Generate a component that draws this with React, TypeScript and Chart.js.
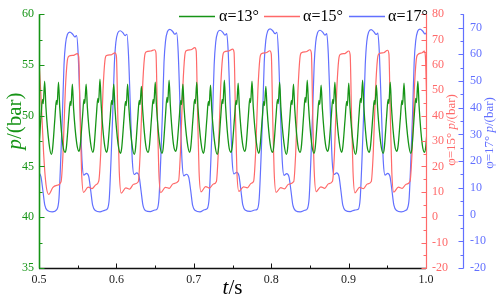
import React, { useEffect, useRef } from "react";
import { Chart, registerables } from "chart.js";

Chart.register(...registerables);

const GREEN = "rgb(22,148,22)";
const RED = "rgb(255,105,105)";
const BLUE = "rgb(98,112,255)";
const FONT = '"Liberation Serif", "Times New Roman", serif';

const legendLabels = ["α=13°", "α=15°", "α=17°"];
const xTitle: [string, boolean][] = [["t", true], ["/s", false]];
const greenTitle: [string, boolean][] = [["p", true], ["/(bar)", false]];
const redTitle: [string, boolean][] = [["φ=15° ", false], ["p", true], ["/(bar)", false]];
const blueTitle: [string, boolean][] = [["φ=17° ", false], ["p", true], ["/(bar)", false]];

// α=13° : time (s) and pressure (bar, left axis)
const greenT = [
  0.4981, 0.4996, 0.5026, 0.5045, 0.5055, 0.5073, 0.5089, 0.5129,
  0.5160, 0.5175, 0.5205, 0.5224, 0.5234, 0.5252, 0.5268, 0.5308,
  0.5339, 0.5354, 0.5384, 0.5403, 0.5413, 0.5431, 0.5447, 0.5487,
  0.5517, 0.5532, 0.5562, 0.5581, 0.5591, 0.5609, 0.5625, 0.5665,
  0.5696, 0.5711, 0.5741, 0.5760, 0.5770, 0.5788, 0.5804, 0.5844,
  0.5874, 0.5889, 0.5919, 0.5938, 0.5948, 0.5966, 0.5982, 0.6022,
  0.6053, 0.6068, 0.6098, 0.6117, 0.6127, 0.6145, 0.6161, 0.6201,
  0.6231, 0.6246, 0.6276, 0.6295, 0.6305, 0.6323, 0.6339, 0.6379,
  0.6410, 0.6425, 0.6455, 0.6474, 0.6484, 0.6502, 0.6518, 0.6558,
  0.6589, 0.6604, 0.6634, 0.6653, 0.6663, 0.6681, 0.6697, 0.6737,
  0.6767, 0.6782, 0.6812, 0.6831, 0.6841, 0.6859, 0.6875, 0.6915,
  0.6946, 0.6961, 0.6991, 0.7010, 0.7020, 0.7038, 0.7054, 0.7094,
  0.7124, 0.7139, 0.7169, 0.7188, 0.7198, 0.7216, 0.7232, 0.7272,
  0.7303, 0.7318, 0.7348, 0.7367, 0.7377, 0.7395, 0.7411, 0.7451,
  0.7481, 0.7496, 0.7526, 0.7545, 0.7555, 0.7573, 0.7589, 0.7629,
  0.7660, 0.7675, 0.7705, 0.7724, 0.7734, 0.7752, 0.7768, 0.7808,
  0.7839, 0.7854, 0.7884, 0.7903, 0.7913, 0.7931, 0.7947, 0.7987,
  0.8017, 0.8032, 0.8062, 0.8081, 0.8091, 0.8109, 0.8125, 0.8165,
  0.8196, 0.8211, 0.8241, 0.8260, 0.8270, 0.8288, 0.8304, 0.8344,
  0.8374, 0.8389, 0.8419, 0.8438, 0.8448, 0.8466, 0.8482, 0.8522,
  0.8553, 0.8568, 0.8598, 0.8617, 0.8627, 0.8645, 0.8661, 0.8701,
  0.8731, 0.8746, 0.8776, 0.8795, 0.8805, 0.8823, 0.8839, 0.8879,
  0.8910, 0.8925, 0.8955, 0.8974, 0.8984, 0.9002, 0.9018, 0.9058,
  0.9089, 0.9104, 0.9134, 0.9153, 0.9163, 0.9181, 0.9197, 0.9237,
  0.9267, 0.9282, 0.9312, 0.9331, 0.9341, 0.9359, 0.9375, 0.9415,
  0.9446, 0.9461, 0.9491, 0.9510, 0.9520, 0.9538, 0.9554, 0.9594,
  0.9624, 0.9639, 0.9669, 0.9688, 0.9698, 0.9716, 0.9732, 0.9772,
  0.9803, 0.9818, 0.9848, 0.9867, 0.9877, 0.9895, 0.9911, 0.9951,
  0.9981, 0.9996, 1.0026,
];
const greenP = [
  46.4, 46.9, 49.9, 51.6, 51.2, 53.4, 50.9, 47.3,
  46.2, 46.7, 49.7, 51.5, 51.1, 53.3, 50.8, 47.1,
  46.4, 46.9, 49.8, 51.4, 51.0, 53.1, 50.7, 47.3,
  46.5, 47.0, 49.9, 51.6, 51.2, 53.1, 50.8, 47.4,
  46.4, 46.9, 50.0, 51.7, 51.3, 53.6, 51.0, 47.3,
  46.4, 46.9, 49.8, 51.5, 51.1, 53.1, 50.7, 47.2,
  46.3, 46.8, 49.7, 51.4, 51.0, 53.1, 50.8, 47.2,
  46.2, 46.7, 49.8, 51.5, 51.1, 52.9, 50.6, 47.1,
  46.4, 46.9, 49.9, 51.6, 51.2, 53.3, 50.9, 47.3,
  46.3, 46.8, 50.0, 51.8, 51.3, 53.5, 51.0, 47.2,
  46.5, 47.0, 49.8, 51.5, 51.1, 53.1, 50.7, 47.4,
  46.4, 46.9, 49.9, 51.6, 51.2, 53.3, 50.8, 47.3,
  46.3, 46.8, 49.7, 51.4, 51.0, 53.0, 50.6, 47.2,
  46.2, 46.7, 49.9, 51.6, 51.2, 53.5, 50.9, 47.1,
  46.4, 46.9, 49.8, 51.5, 51.1, 53.2, 50.8, 47.3,
  46.5, 47.0, 50.0, 51.7, 51.3, 53.4, 50.9, 47.4,
  46.3, 46.8, 49.7, 51.4, 51.0, 52.9, 50.6, 47.2,
  46.4, 46.9, 49.9, 51.6, 51.2, 53.3, 50.8, 47.3,
  46.2, 46.7, 49.8, 51.5, 51.1, 53.1, 50.7, 47.1,
  46.4, 46.9, 50.0, 51.8, 51.3, 53.5, 51.0, 47.3,
  46.3, 46.8, 49.8, 51.5, 51.1, 53.0, 50.7, 47.2,
  46.5, 47.0, 49.9, 51.6, 51.2, 53.3, 50.8, 47.4,
  46.4, 46.9, 49.7, 51.4, 51.0, 53.2, 50.8, 47.3,
  46.2, 46.7, 50.0, 51.7, 51.3, 53.5, 50.9, 47.1,
  46.4, 46.9, 49.8, 51.5, 51.1, 53.0, 50.7, 47.3,
  46.3, 46.8, 49.9, 51.6, 51.2, 53.3, 50.8, 47.2,
  46.5, 47.0, 49.8, 51.5, 51.1, 53.2, 50.8, 47.4,
  46.3, 46.8, 50.0, 51.7, 51.3, 53.4, 50.9, 47.2,
  46.4, 46.9, 49.9,
];

// α=15° : time (s) and pressure (bar, first right axis)
const redT = [
  0.4990, 0.5000, 0.5030, 0.5060, 0.5090, 0.5125, 0.5180, 0.5235,
  0.5285, 0.5310, 0.5340, 0.5365, 0.5385, 0.5445, 0.5495, 0.5513, 0.5531, 0.5550, 0.5575, 0.5635, 0.5685, 0.5735,
  0.5772, 0.5797, 0.5827, 0.5852, 0.5872, 0.5932, 0.5982, 0.6000, 0.6018, 0.6037, 0.6062, 0.6122, 0.6172, 0.6222,
  0.6283, 0.6308, 0.6338, 0.6363, 0.6383, 0.6443, 0.6493, 0.6511, 0.6529, 0.6548, 0.6573, 0.6633, 0.6683, 0.6733,
  0.6803, 0.6828, 0.6858, 0.6883, 0.6903, 0.6963, 0.7013, 0.7031, 0.7049, 0.7068, 0.7093, 0.7153, 0.7203, 0.7253,
  0.7292, 0.7317, 0.7347, 0.7372, 0.7392, 0.7452, 0.7502, 0.7520, 0.7538, 0.7557, 0.7582, 0.7642, 0.7692, 0.7742,
  0.7773, 0.7798, 0.7828, 0.7853, 0.7873, 0.7933, 0.7983, 0.8001, 0.8019, 0.8038, 0.8063, 0.8123, 0.8173, 0.8223,
  0.8291, 0.8316, 0.8346, 0.8371, 0.8391, 0.8451, 0.8501, 0.8519, 0.8537, 0.8556, 0.8581, 0.8641, 0.8691, 0.8741,
  0.8792, 0.8817, 0.8847, 0.8872, 0.8892, 0.8952, 0.9002, 0.9020, 0.9038, 0.9057, 0.9082, 0.9142, 0.9192, 0.9242,
  0.9293, 0.9318, 0.9348, 0.9373, 0.9393, 0.9453, 0.9503, 0.9521, 0.9539, 0.9558, 0.9583, 0.9643, 0.9693, 0.9743,
  0.9794, 0.9819, 0.9849, 0.9874, 0.9894, 0.9950, 0.9978, 0.9992, 1.0010, 1.0030,
];
const redP = [
  63.5, 61.0, 45.0, 25.0, 13.0, 9.0, 11.8, 12.6,
  14.0, 25, 50, 61.5, 63.4, 63.8, 64.5, 63.3, 40, 18, 9.8, 11.9, 11.3, 12.8,
  14.2, 25, 50, 61.8, 63.7, 64.0, 64.8, 63.5, 40, 18, 9.5, 11.6, 11.1, 13.0,
  14.0, 26, 51, 63.0, 65.1, 65.5, 66.0, 64.8, 41, 18, 9.7, 11.8, 11.4, 13.2,
  14.3, 26, 51, 63.5, 65.6, 66.0, 66.8, 65.5, 41, 18, 10.0, 12.1, 11.5, 13.1,
  14.1, 26, 51, 63.0, 65.1, 65.5, 66.2, 65.0, 41, 18, 10.2, 12.0, 11.6, 13.4,
  14.2, 25, 50, 62.3, 64.4, 64.8, 65.6, 64.3, 40, 18, 9.8, 11.7, 11.2, 13.0,
  14.0, 25, 50, 62.7, 64.8, 65.2, 66.0, 64.7, 40, 18, 10.1, 12.0, 11.4, 13.2,
  14.2, 25, 50, 62.0, 64.1, 64.5, 65.5, 64.0, 40, 18, 9.6, 11.8, 11.3, 13.1,
  14.1, 25, 50, 62.3, 64.4, 64.8, 65.8, 64.3, 40, 18, 9.9, 11.9, 11.4, 13.0,
  14.2, 25, 50, 62.0, 64.1, 64.8, 65.5, 63.5, 45, 20,
];

// α=17° : time (s) and pressure (bar, second right axis)
const blueT = [
  0.4960, 0.4995, 0.5025, 0.5050, 0.5075, 0.5110, 0.5170,
  0.5233, 0.5258, 0.5280, 0.5303, 0.5323, 0.5343, 0.5368, 0.5398, 0.5433, 0.5463, 0.5486, 0.5506, 0.5533, 0.5556, 0.5578, 0.5613, 0.5643, 0.5668, 0.5693, 0.5728, 0.5788, 0.5848,
  0.5883, 0.5908, 0.5930, 0.5953, 0.5973, 0.5993, 0.6018, 0.6048, 0.6083, 0.6113, 0.6136, 0.6156, 0.6183, 0.6206, 0.6228, 0.6263, 0.6293, 0.6318, 0.6343, 0.6378, 0.6438, 0.6498,
  0.6525, 0.6550, 0.6572, 0.6595, 0.6615, 0.6635, 0.6660, 0.6690, 0.6725, 0.6755, 0.6778, 0.6798, 0.6825, 0.6848, 0.6870, 0.6905, 0.6935, 0.6960, 0.6985, 0.7020, 0.7080, 0.7140,
  0.7173, 0.7198, 0.7220, 0.7243, 0.7263, 0.7283, 0.7308, 0.7338, 0.7373, 0.7403, 0.7426, 0.7446, 0.7473, 0.7496, 0.7518, 0.7553, 0.7583, 0.7608, 0.7633, 0.7668, 0.7728, 0.7788,
  0.7820, 0.7845, 0.7867, 0.7890, 0.7910, 0.7930, 0.7955, 0.7985, 0.8020, 0.8050, 0.8073, 0.8093, 0.8120, 0.8143, 0.8165, 0.8200, 0.8230, 0.8255, 0.8280, 0.8315, 0.8375, 0.8435,
  0.8465, 0.8490, 0.8512, 0.8535, 0.8555, 0.8575, 0.8600, 0.8630, 0.8665, 0.8695, 0.8718, 0.8738, 0.8765, 0.8788, 0.8810, 0.8845, 0.8875, 0.8900, 0.8925, 0.8960, 0.9020, 0.9080,
  0.9125, 0.9150, 0.9172, 0.9195, 0.9215, 0.9235, 0.9260, 0.9290, 0.9325, 0.9355, 0.9378, 0.9398, 0.9425, 0.9448, 0.9470, 0.9505, 0.9535, 0.9560, 0.9585, 0.9620, 0.9680, 0.9740,
  0.9757, 0.9782, 0.9804, 0.9827, 0.9847, 0.9867, 0.9892, 0.9922, 0.9957, 0.9987, 1.0010, 1.0030,
];
const blueP = [
  14.8, 15.4, 14.2, 9.0, 3.5, 1.5, 1.0,
  2.0, 6.0, 20, 38, 56, 64.0, 67.5, 68.3, 67.6, 66.5, 67.0, 60, 38, 20, 14.8, 15.4, 14.2, 9.0, 3.5, 1.5, 1.0, 1.6,
  2.1, 6.0, 20, 38, 56, 64.5, 68.0, 68.8, 68.1, 67.0, 67.5, 60, 38, 20, 15.0, 15.6, 14.4, 9.0, 3.5, 1.4, 1.1, 1.7,
  2.0, 6.0, 20, 38, 57, 65.0, 68.5, 69.3, 68.6, 67.5, 68.0, 61, 38, 20, 14.5, 15.1, 13.9, 9.0, 3.4, 1.5, 1.0, 1.8,
  2.2, 6.0, 20, 38, 56, 64.5, 68.2, 69.0, 68.3, 67.2, 67.7, 60, 38, 20, 15.2, 15.8, 14.6, 9.2, 3.6, 1.6, 1.2, 1.7,
  2.0, 6.0, 20, 38, 57, 65.2, 68.7, 69.5, 68.8, 67.7, 68.2, 61, 38, 20, 14.7, 15.3, 14.1, 9.0, 3.5, 1.4, 1.0, 1.6,
  2.1, 6.0, 20, 38, 56, 64.5, 68.2, 69.0, 68.3, 67.2, 67.7, 60, 38, 20, 15.0, 15.6, 14.4, 9.1, 3.5, 1.5, 1.1, 1.7,
  2.0, 6.0, 20, 38, 56, 64.8, 68.4, 69.2, 68.5, 67.4, 67.9, 60, 38, 20, 14.8, 15.4, 14.2, 9.0, 3.5, 1.5, 1.0, 1.6,
  2.1, 6.0, 20, 38, 57, 65.0, 68.6, 69.4, 68.7, 67.6, 68.1, 61,
];

function toPoints(t: number[], p: number[]) {
  return t.map((x, i) => ({ x, y: p[i] }));
}

function drawRich(
  ctx: CanvasRenderingContext2D,
  parts: [string, boolean][],
  size: number,
  color: string,
  cx: number,
  cy: number,
  rotate: boolean,
  baseline: CanvasTextBaseline
) {
  ctx.save();
  ctx.translate(cx, cy);
  if (rotate) ctx.rotate(-Math.PI / 2);
  const fonts = parts.map(([, it]) => `${it ? "italic " : ""}${size}px ${FONT}`);
  const widths = parts.map(([s], i) => {
    ctx.font = fonts[i];
    return ctx.measureText(s).width;
  });
  const total = widths.reduce((a, b) => a + b, 0);
  let x = -total / 2;
  ctx.fillStyle = color;
  ctx.textAlign = "left";
  ctx.textBaseline = baseline;
  parts.forEach(([s], i) => {
    ctx.font = fonts[i];
    ctx.fillText(s, x, 0);
    x += widths[i];
  });
  ctx.restore();
}

function tickValues(scale: any, extraTop?: number) {
  const majors: number[] = scale.ticks.map((t: any) => t.value);
  const minors: number[] = [];
  for (let i = 0; i < majors.length - 1; i++) minors.push((majors[i] + majors[i + 1]) / 2);
  if (extraTop !== undefined) minors.push(extraTop);
  return { majors, minors };
}

const decorPlugin = {
  id: "decor",
  afterDraw(chart: any) {
    const { ctx, chartArea: a, scales } = chart;
    const sx = scales.x, sg = scales.yG, sr = scales.yR, sb = scales.yB;
    ctx.save();
    ctx.lineCap = "butt";

    // x axis
    const yb = Math.round(a.bottom) + 0.5;
    ctx.strokeStyle = "#111";
    ctx.lineWidth = 1.4;
    ctx.beginPath();
    ctx.moveTo(a.left, yb);
    ctx.lineTo(a.right, yb);
    ctx.stroke();
    const xt = tickValues(sx);
    ctx.lineWidth = 1;
    ctx.beginPath();
    xt.majors.forEach((v) => {
      const px = Math.round(sx.getPixelForValue(v)) + 0.5;
      ctx.moveTo(px, yb);
      ctx.lineTo(px, yb - 5);
    });
    xt.minors.forEach((v) => {
      const px = Math.round(sx.getPixelForValue(v)) + 0.5;
      ctx.moveTo(px, yb);
      ctx.lineTo(px, yb - 3);
    });
    ctx.stroke();

    const vAxis = (scale: any, xLine: number, dir: number, color: string, w: number, extraTop?: number) => {
      ctx.strokeStyle = color;
      ctx.lineWidth = w;
      ctx.beginPath();
      ctx.moveTo(xLine, scale.top);
      ctx.lineTo(xLine, scale.bottom + 0.5);
      ctx.stroke();
      const t = tickValues(scale, extraTop);
      ctx.lineWidth = 1;
      ctx.beginPath();
      t.majors.forEach((v) => {
        const py = Math.round(scale.getPixelForValue(v)) + 0.5;
        ctx.moveTo(xLine, py);
        ctx.lineTo(xLine + dir * 5, py);
      });
      t.minors.forEach((v) => {
        const py = Math.round(scale.getPixelForValue(v)) + 0.5;
        ctx.moveTo(xLine, py);
        ctx.lineTo(xLine + dir * 3, py);
      });
      ctx.stroke();
    };
    vAxis(sg, Math.round(a.left) + 0.5, 1, GREEN, 1.6);
    vAxis(sr, Math.round(a.right) + 0.5, -1, RED, 1.2);
    vAxis(sb, Math.round(sb.left) + 0.5, -1, BLUE, 1.2, 75);

    // axis titles
    drawRich(ctx, xTitle, 21, "#000", (a.left + a.right) / 2, 294, false, "alphabetic");
    drawRich(ctx, greenTitle, 21, GREEN, 15, 121, true, "middle");
    drawRich(ctx, redTitle, 13, RED, 452, 130, true, "middle");
    drawRich(ctx, blueTitle, 13, BLUE, 490, 133, true, "middle");

    // legend
    const legendLines = [179, 264, 349];
    const legendText = [219, 303, 388];
    chart.data.datasets.forEach((ds: any, i: number) => {
      ctx.strokeStyle = ds.borderColor;
      ctx.lineWidth = 1.4;
      ctx.beginPath();
      ctx.moveTo(legendLines[i], 16.5);
      ctx.lineTo(legendLines[i] + 36, 16.5);
      ctx.stroke();
      ctx.fillStyle = "#000";
      ctx.font = `16px ${FONT}`;
      ctx.textAlign = "left";
      ctx.textBaseline = "middle";
      ctx.fillText(ds.label, legendText[i], 17);
    });
    ctx.restore();
  },
};

export default function App() {
  const ref = useRef<HTMLCanvasElement | null>(null);

  useEffect(() => {
    document.body.style.margin = "0";
    document.body.style.overflow = "hidden";
    if (!ref.current) return;
    Chart.defaults.font.family = FONT;
    const commonLine = {
      pointRadius: 0,
      borderWidth: 1.2,
      cubicInterpolationMode: "monotone" as const,
      fill: false,
    };
    const chart = new Chart(ref.current, {
      type: "line",
      data: {
        datasets: [
          { ...commonLine, label: legendLabels[0], data: toPoints(greenT, greenP), borderColor: GREEN, yAxisID: "yG", borderWidth: 1.3 },
          { ...commonLine, label: legendLabels[1], data: toPoints(redT, redP), borderColor: RED, yAxisID: "yR" },
          { ...commonLine, label: legendLabels[2], data: toPoints(blueT, blueP), borderColor: BLUE, yAxisID: "yB" },
        ],
      },
      options: {
        responsive: false,
        animation: false,
        devicePixelRatio: 1,
        events: [],
        layout: { padding: { top: 8, left: 0, right: 0, bottom: 0 } },
        plugins: { legend: { display: false }, tooltip: { enabled: false } },
        scales: {
          x: {
            type: "linear",
            position: "bottom",
            min: 0.5,
            max: 1.0,
            grid: { display: false, drawTicks: false },
            border: { display: false },
            ticks: {
              stepSize: 0.1,
              padding: 5,
              color: "#222",
              font: { size: 12, family: FONT },
              maxRotation: 0,
              autoSkip: false,
              callback: (v: any) => Number(v).toFixed(1),
            },
            afterFit: (s: any) => { s.height = 31; },
          },
          yG: {
            type: "linear",
            position: "left",
            min: 35,
            max: 60,
            grid: { display: false, drawTicks: false },
            border: { display: false },
            ticks: { stepSize: 5, padding: 5, color: GREEN, font: { size: 12, family: FONT } },
            afterFit: (s: any) => { s.width = 39; },
          },
          yR: {
            type: "linear",
            position: "right",
            min: -20,
            max: 80,
            grid: { display: false, drawTicks: false },
            border: { display: false },
            ticks: { stepSize: 10, padding: 6, color: RED, font: { size: 12, family: FONT } },
            afterFit: (s: any) => { s.width = 37; },
          },
          yB: {
            type: "linear",
            position: "right",
            min: -20,
            max: 75,
            grid: { display: false, drawTicks: false },
            border: { display: false },
            ticks: {
              stepSize: 10,
              includeBounds: false,
              padding: 7,
              color: BLUE,
              font: { size: 12, family: FONT },
              callback: (v: any) => (Number(v) > 70 ? "" : String(v)),
            },
            afterFit: (s: any) => { s.width = 33; },
          },
        },
      } as any,
      plugins: [decorPlugin],
    });
    return () => chart.destroy();
  }, []);

  return (
    <div style={{ width: 496, height: 299, position: "relative" }}>
      <canvas ref={ref} width={496} height={299} style={{ display: "block" }} />
    </div>
  );
}
